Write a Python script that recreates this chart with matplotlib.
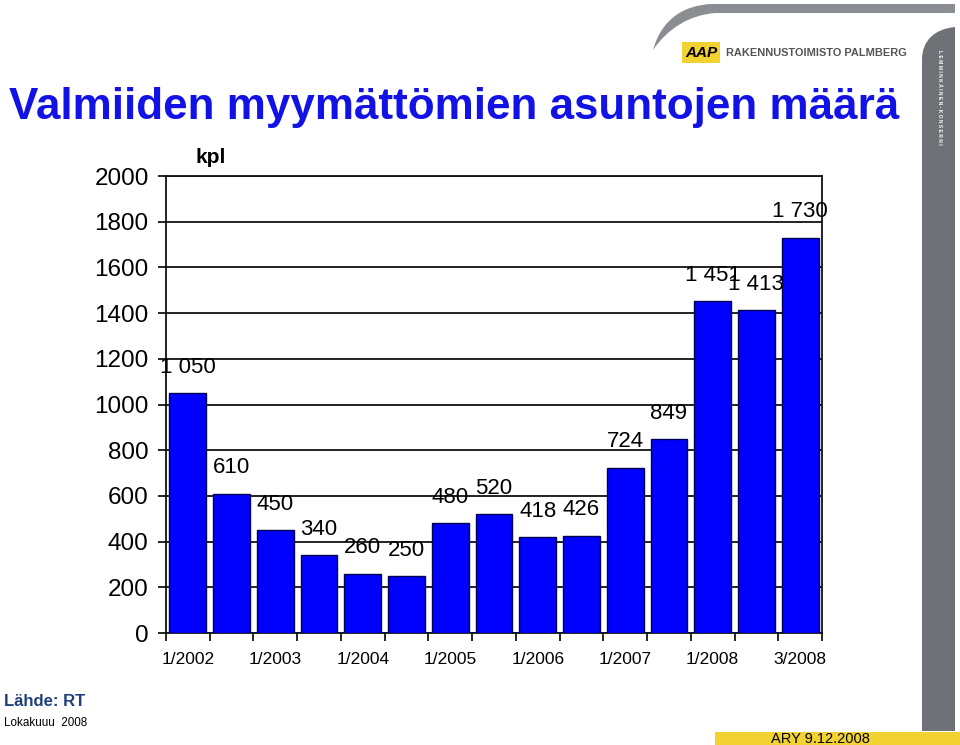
import numpy as np
import matplotlib
matplotlib.use("Agg")
import matplotlib.pyplot as plt
from matplotlib.path import Path
from matplotlib.patches import PathPatch, Rectangle

plt.rcParams['font.family'] = ['Liberation Sans', 'DejaVu Sans']

# data
values = [1050, 610, 450, 340, 260, 250, 480, 520, 418, 426, 724, 849, 1451, 1413, 1730]
tickLabels = ["1/2002", "1/2003", "1/2004", "1/2005", "1/2006", "1/2007", "1/2008", "3/2008"]
tickPositions = [0, 2, 4, 6, 8, 10, 12, 14]

fig = plt.figure(figsize=(9.6, 7.45), dpi=100)

# background decorations in pixel coords
bg = fig.add_axes([0, 0, 1, 1], zorder=-1)
bg.set_xlim(0, 960)
bg.set_ylim(745, 0)
bg.axis('off')

# grey swoosh at the top
verts = [(653, 50), (662, 18), (685, 5), (712, 4), (955, 4), (955, 13),
         (715, 13), (690, 15), (668, 28), (653, 50)]
codes = [Path.MOVETO, Path.CURVE4, Path.CURVE4, Path.CURVE4, Path.LINETO, Path.LINETO,
         Path.LINETO, Path.CURVE4, Path.CURVE4, Path.CURVE4]
bg.add_patch(PathPatch(Path(verts, codes), facecolor='#8a8d91', edgecolor='none'))

# grey bar on the right
verts = [(922, 731), (922, 60), (922, 40), (935, 29), (955, 27), (955, 731), (922, 731)]
codes = [Path.MOVETO, Path.LINETO, Path.CURVE4, Path.CURVE4, Path.CURVE4, Path.LINETO, Path.CLOSEPOLY]
bg.add_patch(PathPatch(Path(verts, codes), facecolor='#6e7176', edgecolor='none'))
bg.text(940, 50, " ".join("LEMMINKÄINEN-KONSERNI"), rotation=-90, ha='center', va='top',
        color='white', fontsize=3.6, fontweight='bold')

# yellow strip at the bottom
bg.add_patch(Rectangle((715, 732), 245, 13, facecolor='#f2d230', edgecolor='none'))
bg.text(820, 739, "ARY 9.12.2008", ha='center', va='center', fontsize=10.5, color='black')

# logo
bg.add_patch(Rectangle((682, 42), 38, 21, facecolor='#f2d230', edgecolor='none'))
bg.text(701, 53, "AAP", ha='center', va='center', fontsize=11, fontweight='bold',
        style='italic', color='black')
bg.text(726, 53, "RAKENNUSTOIMISTO PALMBERG", ha='left', va='center', fontsize=7.9,
        fontweight='bold', color='#555555')

# titles and sources
bg.text(9, 108, "Valmiiden myymättömien asuntojen määrä", ha='left', va='center',
        fontsize=31.7, fontweight='bold', color='#1212e6')
bg.text(4, 702, "Lähde: RT", ha='left', va='center', fontsize=12, fontweight='bold',
        color='#1f3f7a')
bg.text(4, 723, "Lokakuuu  2008", ha='left', va='center', fontsize=8.4, color='black')

# main chart
ax = fig.add_axes([166 / 960, 1 - 633 / 745, (822 - 166) / 960, (633 - 176) / 745])
ax.set_facecolor('none')
x = np.arange(len(values))
ax.bar(x, values, width=0.84, color='#0000ff', edgecolor='#000050', linewidth=1, zorder=3)

for xi, v in zip(x, values):
    lbl = "{:,}".format(v).replace(",", " ")
    ax.annotate(lbl, (xi, v), xytext=(0, 11), textcoords='offset points',
                ha='center', va='bottom', fontsize=16, zorder=4)

ax.set_xlim(-0.5, len(values) - 0.5)
ax.set_ylim(0, 2000)
ax.set_yticks(np.arange(0, 2001, 200))
ax.tick_params(axis='y', labelsize=17.5, length=6, width=1.2, direction='out', pad=6.5)
ax.yaxis.grid(True, color='#111111', linewidth=1.3, zorder=0)
ax.set_axisbelow(True)

# ticks at category boundaries, labels under every second bar
ax.set_xticks(np.arange(-0.5, len(values), 1))
ax.set_xticklabels([])
ax.set_xticks(tickPositions, minor=True)
ax.set_xticklabels(tickLabels, minor=True)
ax.tick_params(axis='x', which='major', length=6, width=1.2, direction='out')
ax.tick_params(axis='x', which='minor', length=0, labelsize=12.5, pad=14)

for side in ['left', 'bottom', 'right', 'top']:
    ax.spines[side].set_linewidth(1.3)
    ax.spines[side].set_color('#111111')

ax.text(0.068, 1.02, "kpl", transform=ax.transAxes, ha='center', va='bottom',
        fontsize=15, fontweight='bold')

fig.savefig("out.png", dpi=100)
